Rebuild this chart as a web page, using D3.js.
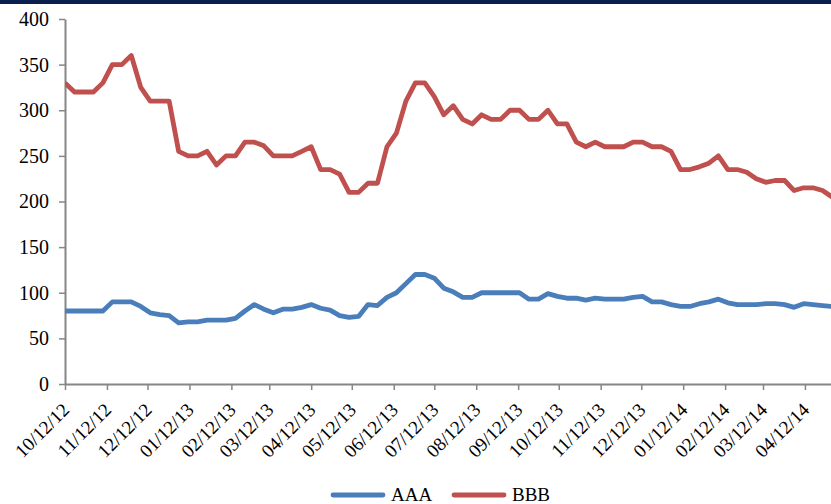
<!DOCTYPE html>
<html>
<head>
<meta charset="utf-8">
<script src="https://cdn.jsdelivr.net/npm/d3@7"></script>
<style>
  html, body { margin: 0; padding: 0; background: #ffffff; }
  svg { display: block; }
  text { font-family: "Liberation Serif", "Times New Roman", serif; fill: #000; }
</style>
</head>
<body>
<svg id="chart" width="831" height="504"></svg>
<script>
// ---- data ----
const startDate = "2012-10-12";   // weekly observations
const seriesNames = ["AAA", "BBB"];
const aaaValues = [80,80,80,80,80,90,90,90,85,78,76,75,67,68,68,70,70,70,72,80,
  87,82,78,82,82,84,87,83,81,75,73,74,87,86,95,100,110,120,120,116,
  105,101,95,95,100,100,100,100,100,93,93,99,96,94,94,92,94,93,93,93,
  95,96,90,90,87,85,85,88,90,93,89,87,87,87,88,88,87,84,88,87,
  86,85];
const bbbValues = [330,320,320,320,330,350,350,360,325,310,310,310,255,250,250,255,240,250,250,265,
  265,261,250,250,250,255,260,235,235,230,210,210,220,220,260,275,310,330,330,315,
  295,305,290,285,295,290,290,300,300,290,290,300,285,285,265,260,265,260,260,260,
  265,265,260,260,255,235,235,238,242,250,235,235,232,225,221,223,223,212,215,215,
  212,205];
const tickLabels = ["10/12/12","11/12/12","12/12/12","01/12/13","02/12/13","03/12/13","04/12/13",
  "05/12/13","06/12/13","07/12/13","08/12/13","09/12/13","10/12/13","11/12/13","12/12/13",
  "01/12/14","02/12/14","03/12/14","04/12/14"];
const yTicks = [0,50,100,150,200,250,300,350,400];
const colors = { AAA: "#4a7ebb", BBB: "#c0504d" };

// ---- build ----
(function () {
const parseISO = d3.timeParse("%Y-%m-%d");
const parseTick = d3.timeParse("%m/%d/%y");
const start = parseISO(startDate);
const dates = aaaValues.map((_, i) => d3.timeDay.offset(start, 7 * i));
const series = [
  { name: "AAA", values: aaaValues },
  { name: "BBB", values: bbbValues }
];
const tickDates = tickLabels.map(parseTick);

const svg = d3.select("#chart");
const W = 831, H = 504;
const mLeft = 65, mRight = 832, mTop = 19, mBottom = 384;

// top navy band
svg.append("rect").attr("x", 0).attr("y", 0).attr("width", W).attr("height", 4).attr("fill", "#0a1f4d");

const x = d3.scaleTime().domain([dates[0], dates[dates.length - 1]]).range([mLeft, mRight]);
const y = d3.scaleLinear().domain([0, 400]).range([mBottom, mTop]);

const axisColor = "#868686";

// y axis
const gy = svg.append("g").attr("transform", `translate(${mLeft},0)`)
  .call(d3.axisLeft(y).tickValues(yTicks).tickSize(6).tickSizeOuter(0).tickPadding(10).tickFormat(d3.format("d")));
gy.select(".domain").attr("stroke", axisColor).attr("stroke-width", 2);
gy.selectAll(".tick line").attr("stroke", axisColor).attr("stroke-width", 1.5);
gy.selectAll(".tick text").attr("font-size", 20).attr("font-family", "Liberation Serif").attr("fill", "#000");

// x axis
const gx = svg.append("g").attr("transform", `translate(0,${mBottom})`)
  .call(d3.axisBottom(x).tickValues(tickDates).tickSize(6).tickSizeOuter(0)
    .tickFormat((d, i) => tickLabels[i]));
gx.select(".domain").attr("stroke", axisColor).attr("stroke-width", 2);
gx.selectAll(".tick line").attr("stroke", axisColor).attr("stroke-width", 1.5);
gx.selectAll(".tick text")
  .attr("font-size", 19).attr("font-family", "Liberation Serif").attr("fill", "#000")
  .attr("text-anchor", "end")
  .attr("transform", "translate(5,27) rotate(-45)")
  .attr("dy", 0).attr("y", 0).attr("x", 0);

// lines
const line = d3.line().x((d, i) => x(dates[i])).y(d => y(d));
svg.append("clipPath").attr("id", "clip").append("rect")
  .attr("x", mLeft).attr("y", 0).attr("width", W - mLeft).attr("height", mBottom + 3);
svg.append("g").attr("clip-path", "url(#clip)")
  .selectAll("path.series").data(series).join("path")
  .attr("class", "series")
  .attr("fill", "none")
  .attr("stroke", d => colors[d.name])
  .attr("stroke-width", 4.8)
  .attr("stroke-linejoin", "round")
  .attr("d", d => line(d.values));

// legend
const legendX = [333, 454];
series.forEach((s, i) => {
  const g = svg.append("g").attr("transform", `translate(${legendX[i]},495)`);
  g.append("line").attr("x1", 0).attr("x2", 50).attr("y1", 0).attr("y2", 0)
    .attr("stroke", colors[s.name]).attr("stroke-width", 4.8).attr("stroke-linecap", "round");
  g.append("text").attr("x", 58).attr("y", 6).attr("font-size", 19).text(s.name);
});
})();
</script>
</body>
</html>
